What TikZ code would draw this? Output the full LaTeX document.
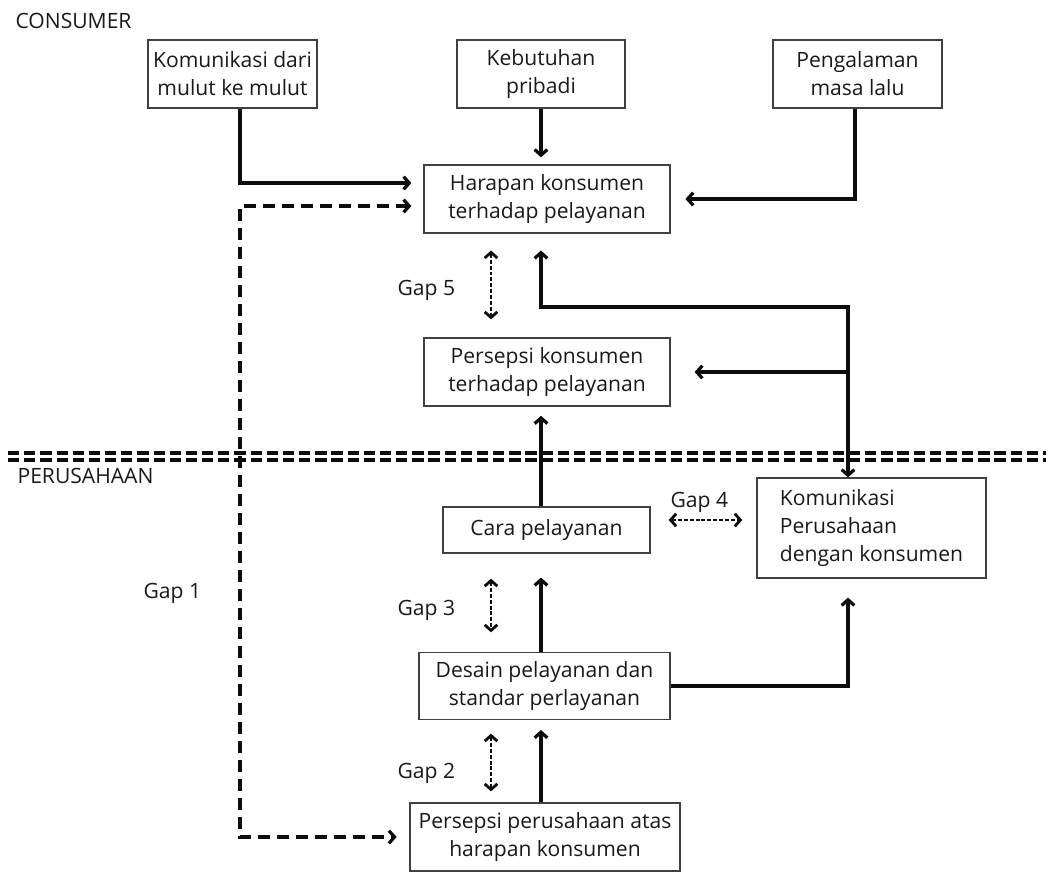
\documentclass[tikz,border=0pt]{standalone}
\usepackage{fontspec}
\setmainfont{Open Sans}
\usetikzlibrary{arrows.meta,calc}

\begin{document}
\begin{tikzpicture}[x=0.025cm, y=-0.025cm, >={Straight Barb[length=4pt,width=9pt]}, thick]
    \tikzstyle{box}=[draw=black!75, line width=0.9pt, inner sep=1pt, align=center, text=black!90, font=\fontsize{15}{19.9}\selectfont]
    \tikzstyle{lbl}=[inner sep=0pt, anchor=base west, text=black!90, font=\fontsize{15}{19.9}\selectfont]
    \tikzstyle{arr}=[->, line width=2.3pt, black!95]
    \tikzstyle{gap}=[<->, line width=2pt, black!95, dash pattern=on 2.8pt off 1.4pt]
    \tikzstyle{gapone}=[<->, line width=2.3pt, black!95, dash pattern=on 8.5pt off 5pt]
    \tikzstyle{sep}=[line width=2.6pt, black!95, dash pattern=on 8pt off 3.5pt]

    \useasboundingbox (0,0) rectangle (1054,871);

    \node[box, minimum width=4.225cm, minimum height=1.7cm] (mulut) at (232.5,74) {Komunikasi dari\\mulut ke mulut};
    \node[box, minimum width=4.2cm, minimum height=1.7cm] (pribadi) at (541,74) {Kebutuhan\\pribadi};
    \node[box, minimum width=4.225cm, minimum height=1.7cm] (lalu) at (857.5,74) {Pengalaman\\masa lalu};
    \node[box, minimum width=6.15cm, minimum height=1.7cm] (harapan) at (547,199) {Harapan konsumen\\terhadap pelayanan};
    \node[box, minimum width=6.15cm, minimum height=1.7cm] (perskons) at (547,372) {Persepsi konsumen\\terhadap pelayanan};
    \node[box, minimum width=5.175cm, minimum height=1.15cm] (cara) at (546.5,530) {Cara pelayanan};
    \node[box, minimum width=5.725cm, minimum height=2.5cm, align=left] (komper) at (871.5,528) {Komunikasi\\Perusahaan\\dengan konsumen};
    \node[box, minimum width=6.275cm, minimum height=1.675cm] (desain) at (544.5,686) {Desain pelayanan dan\\standar perlayanan};
    \node[box, minimum width=6.75cm, minimum height=1.7cm] (persper) at (545,837) {Persepsi perusahaan atas\\harapan konsumen};

    \node[lbl] (consumer) at (15,28) {CONSUMER};
    \node[lbl] (perusahaan) at (17,483) {PERUSAHAAN};
    \node[lbl] (gap1) at (143,598) {Gap 1};
    \node[lbl] (gap2) at (397,778) {Gap 2};
    \node[lbl] (gap3) at (397,615) {Gap 3};
    \node[lbl] (gap4) at (670,507) {Gap 4};
    \node[lbl] (gap5) at (397,295) {Gap 5};

    \coordinate (spine) at (541,0);
    \coordinate (gapx) at (491,0);
    \coordinate (left) at (240,0);
    \coordinate (right) at (848,307);
    \coordinate (g4) at ($(cara.east)+(0,-10)$);

    % batas consumer / perusahaan
    \draw[sep] (8,453) -- (1046,453);
    \draw[sep] (8,460) -- (1046,460);

    \draw[arr, shorten >=8.5pt] ($(mulut.south)+(7.5,0)$) |- ($(harapan.west)+(0,-16)$);
    \draw[arr, shorten >=5pt] (spine |- pribadi.south) -- (spine |- harapan.north);
    \draw[arr, shorten >=10.5pt] ($(lalu.south)+(-2.5,0)$) |- (harapan.east);
    \draw[gapone, shorten <=8.5pt, shorten >=9pt] ($(harapan.west)+(0,7)$) -| (left |- gap1) |- (persper.west);

    \draw[arr, <->, shorten <=12pt] (spine |- harapan.south) |- (right) -- (right |- komper.north);
    \draw[arr, shorten >=17pt] (right |- perskons.east) -- (perskons.east);
    \draw[arr, shorten >=6.5pt] (spine |- cara.north) -- (spine |- perskons.south);
    \draw[arr, shorten >=17pt] (spine |- desain.north) -- (spine |- cara.south);
    \draw[arr, shorten >=13.5pt] (desain.east) -| (right |- komper.south);
    \draw[arr, shorten >=7pt] (spine |- persper.north) -- (spine |- desain.south);

    % gap
    \draw[gap, shorten <=12pt, shorten >=12.8pt] (gapx |- harapan.south) -- (gapx |- perskons.north);
    \draw[gap, shorten <=12.8pt, shorten >=10pt] (g4) -- (g4 -| komper.west);
    \draw[gap, shorten <=17.8pt, shorten >=13.9pt] (gapx |- cara.south) -- (gapx |- desain.north);
    \draw[gap, shorten <=9.6pt, shorten >=7.8pt] (gapx |- desain.south) -- (gapx |- persper.north);
\end{tikzpicture}
\end{document}
